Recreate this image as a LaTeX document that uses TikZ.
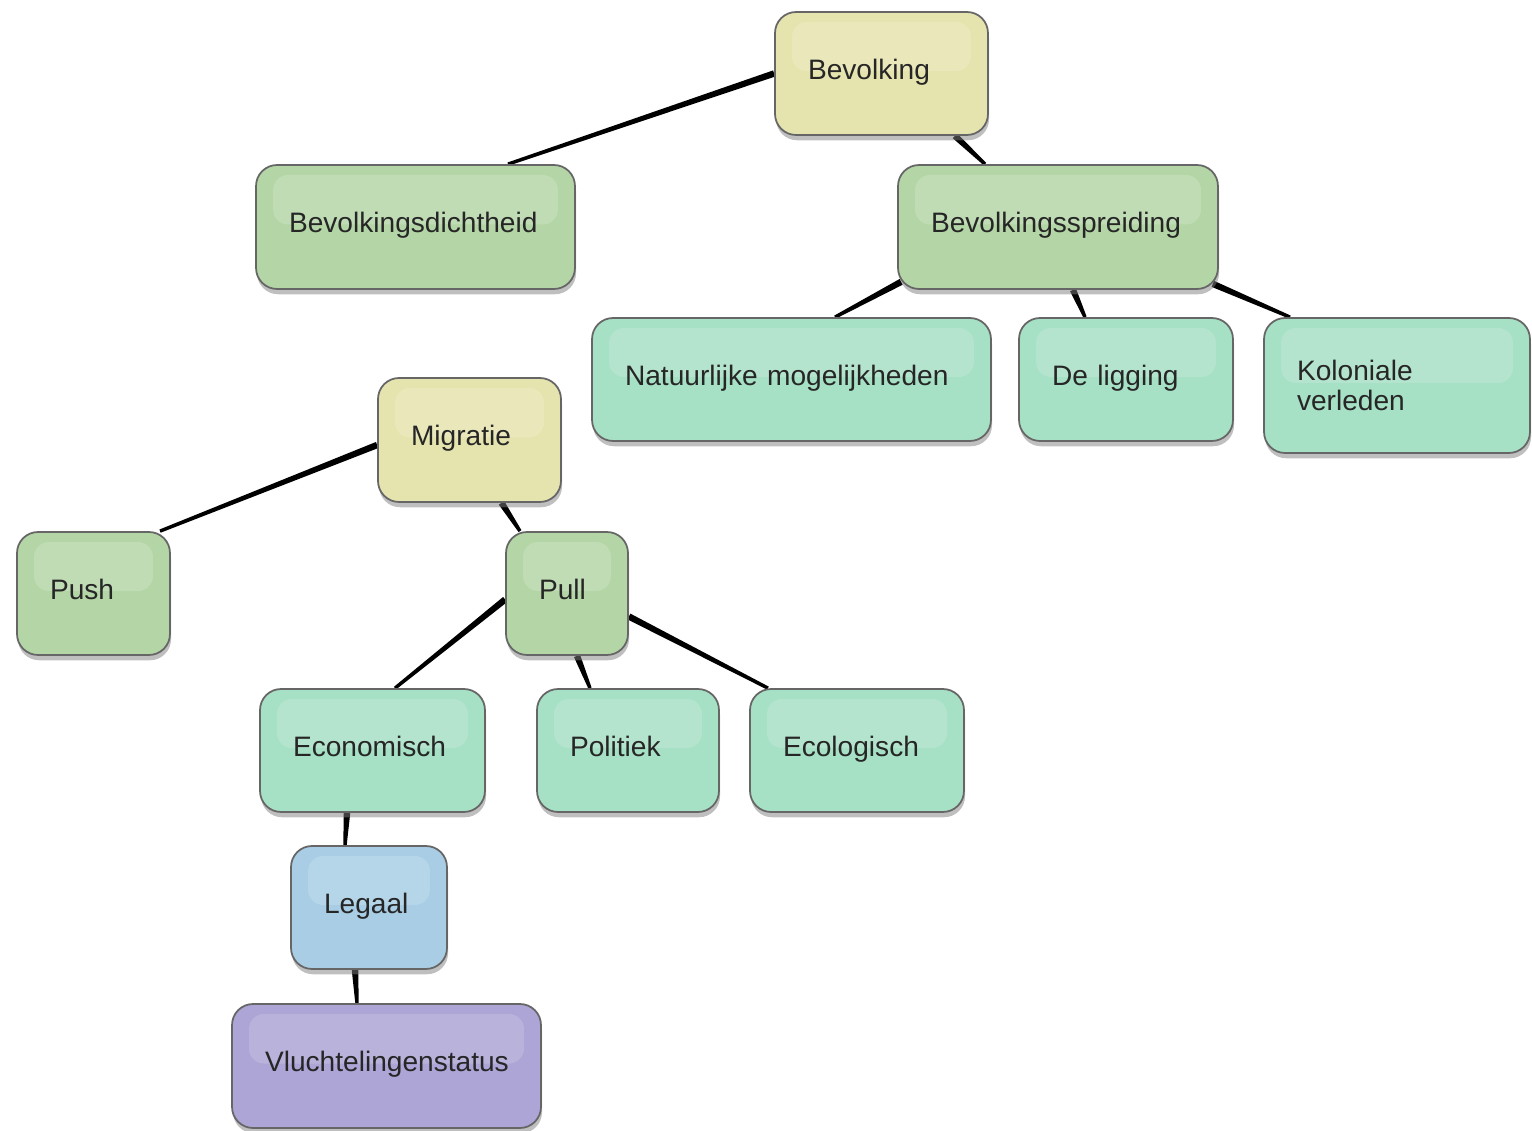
\documentclass[tikz,border=0pt]{standalone}
\usepackage{fontspec}
\setmainfont{Liberation Sans}
\usetikzlibrary{calc,shadows,backgrounds}
\definecolor{geel}{HTML}{E6E4AE}
\definecolor{groen}{HTML}{B4D6A6}
\definecolor{mint}{HTML}{A6E0C5}
\definecolor{blauw}{HTML}{A8CDE4}
\definecolor{paars}{HTML}{ACA5D6}

% verbinding die smaller wordt naar het kind toe
\newcommand\taper[2]{%
    \path (#1) coordinate (ta) (#2) coordinate (tb);
    \fill[black] ($(ta)!0.065cm!90:(tb)$) -- ($(tb)!0.034cm!-90:(ta)$)
        -- ($(tb)!0.034cm!90:(ta)$) -- ($(ta)!0.065cm!-90:(tb)$) -- cycle;}

\begin{document}
\begin{tikzpicture}[
        x=0.02cm, y=-0.02cm,
        box/.style={draw=black!60, line width=1pt, rounded corners=0.42cm,
            align=left, inner xsep=0.66cm, inner ysep=0pt,
            font=\fontsize{16pt}{16.5pt}\selectfont, text=black!85,
            execute at begin node=\strut,
            drop shadow={shadow xshift=0.6pt, shadow yshift=-3pt, opacity=0.5},
            path picture={
                \fill[white, opacity=0.16, rounded corners=0.3cm]
                    ($(path picture bounding box.north west)+(0.34cm,-0.2cm)$)
                    rectangle ($(path picture bounding box.east)+(-0.34cm,0.05cm)$);
            }}
    ]
        \useasboundingbox (0,0) rectangle (1532,1131);

        % bovenste boom
        \node[box, fill=geel, text width=2.94cm, minimum height=2.46cm] (bevolking) at (881.5,73.5) {Bevolking};
        \node[box, fill=groen, text width=5.06cm, minimum height=2.48cm] (dichtheid) at (415.5,227) {Bevolkingsdichtheid};
        \node[box, fill=groen, text width=5.08cm, minimum height=2.48cm] (spreiding) at (1058,227) {Bevolkingsspreiding};
        \node[box, fill=mint, text width=6.66cm, minimum height=2.46cm] (natuurlijk) at (791.5,379.5) {Natuurlijke mogelijkheden};
        \node[box, fill=mint, text width=2.96cm, minimum height=2.46cm] (ligging) at (1126,379.5) {De ligging};
        \node[box, fill=mint, text width=4.00cm, minimum height=2.70cm] (koloniaal) at (1397,385.5) {Koloniale\\verleden};

        % onderste boom
        \node[box, fill=geel, text width=2.34cm, minimum height=2.48cm] (migratie) at (469.5,440) {Migratie};
        \node[box, fill=groen, text width=1.74cm, minimum height=2.46cm] (push) at (93.5,593.5) {Push};
        \node[box, fill=groen, text width=1.12cm, minimum height=2.46cm] (pull) at (567,593.5) {Pull};
        \node[box, fill=mint, text width=3.18cm, minimum height=2.46cm] (economisch) at (372.5,750.5) {Economisch};
        \node[box, fill=mint, text width=2.32cm, minimum height=2.46cm] (politiek) at (628,750.5) {Politiek};
        \node[box, fill=mint, text width=2.96cm, minimum height=2.46cm] (ecologisch) at (857,750.5) {Ecologisch};
        \node[box, fill=blauw, text width=1.80cm, minimum height=2.46cm] (legaal) at (369,907.5) {Legaal};
        \node[box, fill=paars, text width=4.86cm, minimum height=2.48cm] (vlucht) at (386.5,1066) {Vluchtelingenstatus};

        % verbindingen
        \begin{scope}[on background layer]
            \taper{bevolking.west}{$(dichtheid.north)+(92.5,0)$}
            \taper{$(bevolking.south)+(73.5,0)$}{$(spreiding.north)+(-73,0)$}
            \taper{$(spreiding.south west)+(4,-8)$}{$(natuurlijk.north)+(43.5,0)$}
            \taper{$(spreiding.south)+(15,0)$}{$(ligging.north)+(-41,0)$}
            \taper{$(spreiding.south east)+(-6,-6)$}{$(koloniaal.north)+(-107,0)$}
            \taper{$(migratie.west)+(0,5)$}{$(push.north)+(66.5,0)$}
            \taper{$(migratie.south)+(32,0)$}{$(pull.north)+(-47,0)$}
            \taper{$(pull.west)+(0,6)$}{$(economisch.north)+(22.5,0)$}
            \taper{$(pull.south)+(10,0)$}{$(politiek.north)+(-38,0)$}
            \taper{$(pull.east)+(0,23)$}{$(ecologisch.north)+(-89,0)$}
            \taper{$(economisch.south)+(-25.5,0)$}{$(legaal.north)+(-24,0)$}
            \taper{$(legaal.south)+(-14,0)$}{$(vlucht.north)+(-29.5,0)$}
        \end{scope}
    \end{tikzpicture}
\end{document}
